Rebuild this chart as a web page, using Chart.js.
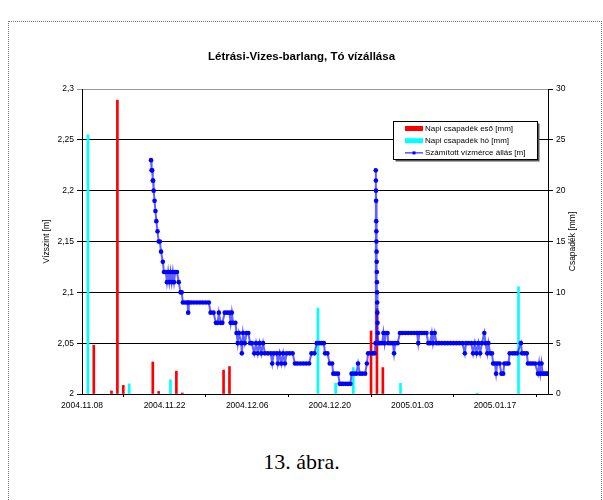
<!DOCTYPE html>
<html>
<head>
<meta charset="utf-8">
<script src="https://cdn.jsdelivr.net/npm/chart.js@4/dist/chart.umd.min.js"></script>
<style>
  body { margin: 0; background: #fff; width: 603px; height: 500px; overflow: hidden; position: relative; }
  #frame { position: absolute; left: 8px; top: 21px; width: 592px; height: 490px;
           border-left: 1px dotted #777; border-top: 1px dotted #777; border-right: 1px dotted #777; }
  #wrap { position: absolute; left: 0; top: 0; width: 603px; height: 440px; }
  #caption { position: absolute; left: 0; width: 603px; top: 449px; text-align: center;
             font-family: "Liberation Serif", serif; font-size: 22px; color: #000; }
</style>
</head>
<body>
<div id="frame"></div>
<div id="wrap"><canvas id="chart" width="603" height="440"></canvas></div>
<div id="caption">13. ábra.</div>
<script>
// napok 2004.11.08-tól számolva
const xTickDays = [0, 14, 28, 42, 56, 70];
const xTickLabels = ['2004.11.08', '2004.11.22', '2004.12.06', '2004.12.20', '2005.01.03', '2005.01.17'];

const rainDays = [2, 5, 6, 7, 12, 13, 16, 17, 24, 25, 49, 50, 51];
const rainMm   = [4.8, 0.3, 28.9, 0.85, 3.15, 0.25, 2.25, 0.1, 2.35, 2.7, 6.2, 8.4, 2.6];

const snowDays = [1, 8, 15, 40, 43, 46, 54, 67, 74];
const snowMm   = [25.5, 1.0, 1.4, 8.45, 1.05, 2.6, 1.05, 0.1, 10.55];

const levelDays = [
  11.7, 11.8, 11.9, 12.0, 12.05, 12.15, 12.3, 12.45, 12.6, 12.8, 13.0, 13.2, 13.4, 13.7,
  13.9, 14.2, 14.4, 14.6, 14.8, 15.0, 15.2, 15.4, 15.6, 15.8, 16.1, 16.4, 16.7, 16.9,
  17.1, 17.5, 17.9, 18.0, 18.1, 18.5, 19.0, 19.5, 20.0, 20.5, 21.0, 21.5,
  21.8, 22.3, 22.7, 23.0, 23.2, 23.5, 23.8, 24.2, 24.6, 25.0, 25.2, 25.4, 25.6, 26.0,
  26.2, 26.4, 26.6, 27.0, 27.1, 27.3, 27.6, 27.9, 28.2, 28.5,
  28.8, 29.2, 29.5, 29.8, 30.1, 30.4, 30.7, 31.0,
  31.5, 32.0, 32.25, 32.5, 33.0, 33.2, 33.5, 33.8, 34.1, 34.4, 34.7, 35.2, 35.7,
  36.1, 36.5, 37.0, 37.5, 38.0, 38.5, 38.9, 39.4, 39.8, 40.2, 40.6, 41.0, 41.2, 41.6,
  42.0, 42.4, 42.6, 43.0, 43.4, 43.7, 44.0, 44.3, 44.7, 45.1, 45.5, 45.7, 46.1, 46.5,
  46.8, 47.1, 47.5, 48.0, 48.3, 48.5, 48.9, 49.3, 49.6, 49.75,
  49.8, 49.82, 49.84, 49.86, 49.88, 49.9, 49.92, 49.94, 49.96, 49.98, 50.0, 50.02,
  50.04, 50.07, 50.1, 50.15, 50.25,
  50.5, 50.9, 51.1, 51.3, 51.5, 51.8, 51.9, 52.3, 52.7, 52.9, 53.1, 53.5, 53.9,
  54.3, 54.8, 55.3, 55.8, 56.3, 56.8, 57.0, 57.2, 57.6, 58.0, 58.4, 58.7, 59.0,
  59.3, 59.5, 59.8, 60.1, 60.5, 61.0, 61.5, 62.0, 62.5, 63.0, 63.5, 64.0, 64.5,
  64.9, 65.1, 65.5, 66.0, 66.3, 66.6, 66.9, 67.2, 67.5, 67.8, 68.2, 68.4, 68.7,
  68.9, 69.2, 69.5, 69.7, 70.0, 70.2, 70.4, 70.8, 71.1, 71.4, 71.6, 72.0, 72.3,
  72.5, 73.0, 73.4, 73.8, 74.4, 74.6, 75.0, 75.4, 75.6, 76.0, 76.4, 76.8, 77.3,
  77.5, 77.7, 77.9, 78.1, 78.4, 78.7, 78.9
];
const levelM = [
  2.23, 2.22, 2.22, 2.21, 2.21, 2.20, 2.19, 2.18, 2.17, 2.16, 2.15, 2.15, 2.14, 2.13,
  2.12, 2.12, 2.11, 2.12, 2.11, 2.12, 2.11, 2.12, 2.11, 2.12, 2.12, 2.11, 2.10, 2.10,
  2.09, 2.09, 2.09, 2.08, 2.09, 2.09, 2.09, 2.09, 2.09, 2.09, 2.09, 2.09,
  2.08, 2.08, 2.07, 2.07, 2.08, 2.07, 2.07, 2.08, 2.08, 2.08, 2.07, 2.08, 2.07, 2.07,
  2.06, 2.05, 2.06, 2.05, 2.04, 2.06, 2.05, 2.06, 2.06, 2.05,
  2.05, 2.04, 2.05, 2.04, 2.05, 2.04, 2.05, 2.04,
  2.04, 2.04, 2.03, 2.04, 2.04, 2.03, 2.04, 2.03, 2.04, 2.03, 2.04, 2.04, 2.04,
  2.03, 2.03, 2.03, 2.03, 2.03, 2.03, 2.04, 2.04, 2.05, 2.05, 2.05, 2.05, 2.04, 2.04,
  2.03, 2.03, 2.02, 2.02, 2.02, 2.01, 2.01, 2.01, 2.01, 2.01, 2.01, 2.02, 2.02, 2.02,
  2.03, 2.02, 2.02, 2.02, 2.03, 2.04, 2.04, 2.04, 2.04, 2.05,
  2.22, 2.21, 2.20, 2.19, 2.17, 2.16, 2.15, 2.14, 2.13, 2.12, 2.11, 2.10,
  2.09, 2.08, 2.07, 2.06, 2.05,
  2.05, 2.05, 2.06, 2.05, 2.06, 2.06, 2.05, 2.05, 2.05, 2.04, 2.05, 2.05, 2.06,
  2.06, 2.06, 2.06, 2.06, 2.06, 2.06, 2.05, 2.06, 2.06, 2.06, 2.06, 2.05, 2.05,
  2.06, 2.05, 2.06, 2.05, 2.05, 2.05, 2.05, 2.05, 2.05, 2.05, 2.05, 2.05, 2.05,
  2.04, 2.05, 2.05, 2.05, 2.04, 2.05, 2.04, 2.05, 2.04, 2.05, 2.06, 2.05, 2.04,
  2.05, 2.04, 2.04, 2.03, 2.03, 2.02, 2.03, 2.03, 2.02, 2.02, 2.03, 2.03, 2.03,
  2.04, 2.04, 2.04, 2.04, 2.05, 2.04, 2.04, 2.04, 2.03, 2.03, 2.03, 2.03, 2.02,
  2.03, 2.02, 2.03, 2.02, 2.02, 2.02, 2.02
];

const FONT = 'Arial, "Liberation Sans", sans-serif';

function pairs(xs, ys) {
    return xs.map((x, i) => ({ x: x, y: ys[i] }));
}

function commaLabel(v) {
    return String(Number(v.toFixed(2))).replace('.', ',');
}

// jobb oldali tengelycím (alulról felfelé olvasva) és a jelmagyarázat
const extrasPlugin = {
    id: 'extras',
    afterDraw(chart) {
        const ctx = chart.ctx;
        const area = chart.chartArea;
        ctx.save();
        ctx.fillStyle = '#000';
        ctx.font = '8.5px ' + FONT;
        ctx.textAlign = 'center';
        ctx.textBaseline = 'middle';
        ctx.translate(573, (area.top + area.bottom) / 2);
        ctx.rotate(-Math.PI / 2);
        ctx.fillText('Csapadék [mm]', 0, 0);
        ctx.restore();

        // jelmagyarázat doboz
        const bx = 393.5, by = 121.5, bw = 144, bh = 38;
        ctx.save();
        ctx.fillStyle = '#555';
        ctx.fillRect(bx + 2, by + 2, bw, bh);
        ctx.fillStyle = '#fff';
        ctx.fillRect(bx, by, bw, bh);
        ctx.strokeStyle = '#000';
        ctx.lineWidth = 1;
        ctx.strokeRect(bx, by, bw, bh);

        const ds = chart.data.datasets;
        const rows = [ds[1], ds[2], ds[0]];
        ctx.font = '8px ' + FONT;
        ctx.textAlign = 'left';
        ctx.textBaseline = 'middle';
        rows.forEach((d, i) => {
            const y = 128.5 + i * 12.2;
            if (d.type === 'line') {
                ctx.strokeStyle = '#0000ff';
                ctx.beginPath();
                ctx.moveTo(405, y);
                ctx.lineTo(423, y);
                ctx.stroke();
                ctx.fillStyle = '#0000ff';
                ctx.fillRect(412.5, y - 1.5, 3, 3);
            } else {
                ctx.fillStyle = d.backgroundColor;
                ctx.fillRect(405, y - 2.5, 18, 5);
            }
            ctx.fillStyle = '#000';
            ctx.fillText(d.label, 425, y);
        });
        ctx.restore();
    }
};

new Chart(document.getElementById('chart'), {
    type: 'bar',
    data: {
        datasets: [{
            type: 'line',
            label: 'Számított vízmérce állás [m]',
            data: pairs(levelDays, levelM),
            yAxisID: 'y',
            borderColor: 'rgba(30,30,255,0.7)',
            borderWidth: 2,
            pointRadius: 2.3,
            pointStyle: 'circle',
            pointBackgroundColor: '#0000ff',
            pointBorderColor: '#0000ff',
            pointBorderWidth: 0,
            tension: 0,
            order: 0
        }, {
            label: 'Napi csapadék eső [mm]',
            data: pairs(rainDays, rainMm),
            yAxisID: 'y1',
            backgroundColor: '#ff0000',
            barThickness: 2,
            grouped: false,
            order: 1
        }, {
            label: 'Napi csapadék hó [mm]',
            data: pairs(snowDays, snowMm),
            yAxisID: 'y1',
            backgroundColor: '#00ffff',
            barThickness: 2,
            grouped: false,
            order: 2
        }]
    },
    options: {
        responsive: false,
        animation: false,
        events: [],
        layout: { padding: { left: 20, right: 20, top: 0, bottom: 0 } },
        plugins: {
            legend: { display: false },
            tooltip: { enabled: false },
            title: {
                display: true,
                text: 'Létrási-Vizes-barlang, Tó vízállása',
                color: '#000',
                font: { family: FONT, size: 11.5, weight: 'bold' },
                padding: { top: 50, bottom: 25.2 }
            }
        },
        scales: {
            x: {
                type: 'linear',
                min: 0,
                max: 79,
                offset: false,
                afterBuildTicks: s => { s.ticks = xTickDays.map(v => ({ value: v })); },
                afterFit: s => { s.height = 46; },
                grid: { drawOnChartArea: false, color: '#000', tickLength: 3 },
                border: { color: '#000' },
                ticks: {
                    color: '#000',
                    font: { family: FONT, size: 8.5 },
                    padding: 4,
                    maxRotation: 0,
                    autoSkip: false,
                    callback: v => xTickLabels[xTickDays.indexOf(v)] ?? ''
                }
            },
            y: {
                position: 'left',
                min: 2,
                max: 2.3,
                afterFit: s => { s.width = 62; },
                grid: {
                    color: ctx => ctx.tick && Math.abs(ctx.tick.value - 2.3) < 1e-6 ? '#9a9a9a' : '#000',
                    tickLength: 5
                },
                border: { color: '#000' },
                ticks: {
                    stepSize: 0.05,
                    color: '#000',
                    font: { family: FONT, size: 8.5 },
                    padding: 3,
                    callback: v => commaLabel(v)
                },
                title: {
                    display: true,
                    text: 'Vízszint [m]',
                    color: '#000',
                    font: { family: FONT, size: 8.5 },
                    padding: { top: 22, bottom: 0 }
                }
            },
            y1: {
                position: 'right',
                min: 0,
                max: 30,
                afterFit: s => { s.width = 35; },
                grid: { drawOnChartArea: false, color: '#000', tickLength: 5 },
                border: { color: '#000' },
                ticks: {
                    stepSize: 5,
                    color: '#000',
                    font: { family: FONT, size: 8.5 },
                    padding: 3
                }
            }
        }
    },
    plugins: [extrasPlugin]
});
</script>
</body>
</html>
